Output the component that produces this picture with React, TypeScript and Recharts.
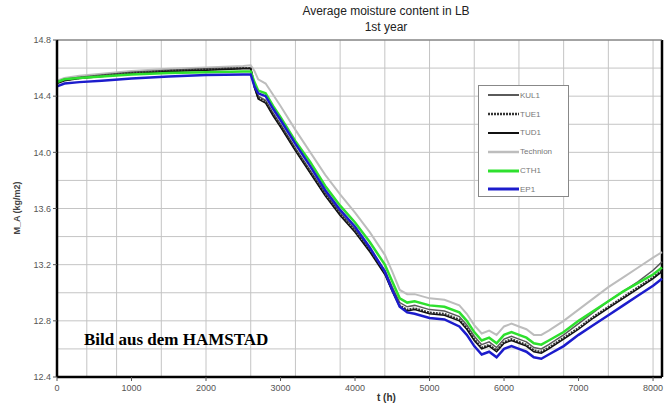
import React from "react";
import { LineChart, Line, XAxis, YAxis, CartesianGrid, ReferenceLine } from "recharts";

const hours = [0, 100, 300, 600, 1000, 1500, 2000, 2500, 2600, 2650, 2700, 2800, 2900, 3000, 3200, 3400, 3600, 3800, 4000, 4200, 4400, 4500, 4600, 4700, 4800, 5000, 5200, 5400, 5500, 5600, 5700, 5800, 5900, 6000, 6100, 6200, 6300, 6400, 6500, 6600, 6800, 7000, 7200, 7400, 7600, 7800, 8000, 8120];

const kul1 = [14.5, 14.52, 14.535, 14.55, 14.57, 14.585, 14.595, 14.6, 14.6, 14.48, 14.4, 14.37, 14.28, 14.2, 14.03, 13.87, 13.71, 13.57, 13.45, 13.31, 13.16, 13.04, 12.93, 12.9, 12.91, 12.88, 12.87, 12.83, 12.77, 12.69, 12.63, 12.65, 12.61, 12.67, 12.69, 12.67, 12.65, 12.61, 12.6, 12.63, 12.7, 12.78, 12.86, 12.94, 13.01, 13.08, 13.16, 13.22];
const tue1 = [14.5, 14.515, 14.53, 14.545, 14.565, 14.58, 14.59, 14.6, 14.6, 14.47, 14.39, 14.36, 14.27, 14.19, 14.02, 13.86, 13.7, 13.56, 13.44, 13.3, 13.14, 13.02, 12.91, 12.88, 12.89, 12.86, 12.85, 12.81, 12.75, 12.67, 12.61, 12.63, 12.59, 12.65, 12.67, 12.65, 12.63, 12.59, 12.58, 12.61, 12.68, 12.75, 12.83, 12.9, 12.97, 13.04, 13.11, 13.16];
const tud1 = [14.49, 14.51, 14.525, 14.54, 14.56, 14.575, 14.585, 14.595, 14.595, 14.46, 14.38, 14.35, 14.26, 14.18, 14.01, 13.85, 13.69, 13.55, 13.43, 13.29, 13.13, 13.01, 12.9, 12.87, 12.88, 12.85, 12.84, 12.8, 12.74, 12.66, 12.6, 12.62, 12.58, 12.64, 12.66, 12.64, 12.62, 12.58, 12.57, 12.6, 12.67, 12.74, 12.82, 12.89, 12.96, 13.03, 13.1, 13.15];
const technion = [14.51, 14.53, 14.545, 14.56, 14.58, 14.595, 14.605, 14.615, 14.62, 14.58, 14.52, 14.49, 14.41, 14.33, 14.16, 14.0, 13.84, 13.7, 13.57, 13.43, 13.27, 13.15, 13.02, 12.99, 12.99, 12.96, 12.95, 12.91, 12.85, 12.77, 12.71, 12.73, 12.7, 12.76, 12.78, 12.76, 12.74, 12.7, 12.7, 12.73, 12.8, 12.88, 12.96, 13.04, 13.11, 13.18, 13.25, 13.29];
const cth1 = [14.5, 14.52, 14.53, 14.54, 14.555, 14.565, 14.57, 14.575, 14.575, 14.5, 14.44, 14.42, 14.33, 14.25, 14.08, 13.93, 13.76, 13.62, 13.5, 13.36, 13.2, 13.08, 12.96, 12.93, 12.94, 12.91, 12.9, 12.86, 12.8, 12.72, 12.66, 12.68, 12.64, 12.7, 12.72, 12.7, 12.68, 12.64, 12.63, 12.66, 12.72, 12.8, 12.87, 12.94, 13.01, 13.07, 13.13, 13.18];
const ep1 = [14.47, 14.49, 14.5, 14.51, 14.525, 14.54, 14.55, 14.555, 14.555, 14.47, 14.42, 14.4, 14.31, 14.23, 14.06, 13.9, 13.73, 13.59, 13.47, 13.32, 13.15, 13.02, 12.9, 12.86, 12.85, 12.82, 12.81, 12.76, 12.7, 12.62, 12.56, 12.58, 12.54, 12.6, 12.62, 12.6, 12.58, 12.54, 12.53, 12.56, 12.62, 12.7, 12.77, 12.84, 12.91, 12.98, 13.05, 13.1];

const xTicks = [0, 1000, 2000, 3000, 4000, 5000, 6000, 7000, 8000];
const yTicks = [12.4, 12.8, 13.2, 13.6, 14.0, 14.4, 14.8];
const xGrid = [0, 200, 400, 600, 800, 1000, 1200, 1400, 1600, 1800, 2000, 2200, 2400, 2600, 2800, 3000, 3200, 3400, 3600, 3800, 4000, 4200, 4400, 4600, 4800, 5000, 5200, 5400, 5600, 5800, 6000, 6200, 6400, 6600, 6800, 7000, 7200, 7400, 7600, 7800, 8000];
const yGrid = [12.4, 12.5, 12.6, 12.7, 12.8, 12.9, 13.0, 13.1, 13.2, 13.3, 13.4, 13.5, 13.6, 13.7, 13.8, 13.9, 14.0, 14.1, 14.2, 14.3, 14.4, 14.5, 14.6, 14.7, 14.8];
const xMax = 8120;

const series = [
  { key: "Technion", values: technion, color: "#bdbdbd", width: 2, dash: undefined },
  { key: "KUL1", values: kul1, color: "#5a5a5a", width: 1.5, dash: undefined },
  { key: "TUE1", values: tue1, color: "#333", width: 2, dash: "2 1" },
  { key: "TUD1", values: tud1, color: "#111", width: 1.5, dash: undefined },
  { key: "CTH1", values: cth1, color: "#2ee02e", width: 2.5, dash: undefined },
  { key: "EP1", values: ep1, color: "#1c1ccc", width: 2.5, dash: undefined },
];
const legendOrder = ["KUL1", "TUE1", "TUD1", "Technion", "CTH1", "EP1"];

const data = hours.map((h, i) => {
  const row: Record<string, number> = { t: h };
  series.forEach((s) => (row[s.key] = s.values[i]));
  return row;
});

const font = "'Liberation Sans Narrow', 'Liberation Sans', Arial, sans-serif";
const tickStyle = { fontSize: 9, fill: "#555", fontFamily: font };

function LegendBox() {
  return (
    <div style={{ position: "absolute", left: 478, top: 85, width: 91, height: 112, border: "1px solid #888", background: "#fff", boxSizing: "border-box" }}>
      {legendOrder.map((k) => {
        const s = series.find((x) => x.key === k)!;
        return (
          <div key={k} style={{ display: "flex", alignItems: "center", height: 18.8 }}>
            <svg width={32} height={6} style={{ marginLeft: 9 }}>
              <line x1={0} y1={3} x2={31} y2={3} stroke={s.color} strokeWidth={s.width + 0.5} strokeDasharray={s.dash} />
            </svg>
            <span style={{ fontSize: 8, color: "#777", fontFamily: font }}>{k}</span>
          </div>
        );
      })}
    </div>
  );
}

export default function App() {
  return (
    <div style={{ position: "absolute", left: 0, top: 0, width: 668, height: 405, fontFamily: font }}>
      <div style={{ position: "absolute", left: 186, width: 400, top: 3, textAlign: "center", fontSize: 12, lineHeight: "16px", color: "#222" }}>
        <div>Average moisture content in LB</div>
        <div>1st year</div>
      </div>
      <LineChart width={668} height={405} data={data} margin={{ top: 40, right: 6, bottom: 0, left: 0 }}>
        <CartesianGrid stroke="#c4c4c4" strokeWidth={1} horizontalValues={yGrid} verticalValues={xGrid} />
        <XAxis
          type="number"
          dataKey="t"
          domain={[0, xMax]}
          ticks={xTicks}
          height={28}
          tick={tickStyle}
          tickSize={4}
          tickMargin={4}
          tickLine={{ stroke: "#555" }}
          axisLine={{ stroke: "#000", strokeWidth: 2.5 }}
        />
        <YAxis
          type="number"
          domain={[12.4, 14.8]}
          ticks={yTicks}
          width={57}
          tick={tickStyle}
          tickSize={4}
          tickLine={{ stroke: "#555" }}
          tickFormatter={(v: number) => v.toFixed(1)}
          axisLine={{ stroke: "#000", strokeWidth: 2.5 }}
        />
        <ReferenceLine x={xMax} stroke="#000" strokeWidth={2.5} />
        <ReferenceLine y={14.8} stroke="#666" strokeWidth={1} />
        {series.map((s) => (
          <Line
            key={s.key}
            type="linear"
            dataKey={s.key}
            stroke={s.color}
            strokeWidth={s.width}
            strokeDasharray={s.dash}
            dot={false}
            isAnimationActive={false}
          />
        ))}
      </LineChart>
      <LegendBox />
      <div style={{ position: "absolute", top: 208, left: 17, transform: "translate(-50%, -50%) rotate(-90deg)", fontSize: 9, fontWeight: "bold", color: "#444", whiteSpace: "nowrap" }}>
        M_A (kg/m2)
      </div>
      <div style={{ position: "absolute", left: 377, top: 392, fontSize: 10, fontWeight: "bold", color: "#333" }}>t (h)</div>
      <div style={{ position: "absolute", left: 84, top: 330, fontFamily: "'Liberation Serif', 'Times New Roman', serif", fontWeight: "bold", fontSize: 17, color: "#000", whiteSpace: "nowrap" }}>
        Bild aus dem HAMSTAD
      </div>
    </div>
  );
}
